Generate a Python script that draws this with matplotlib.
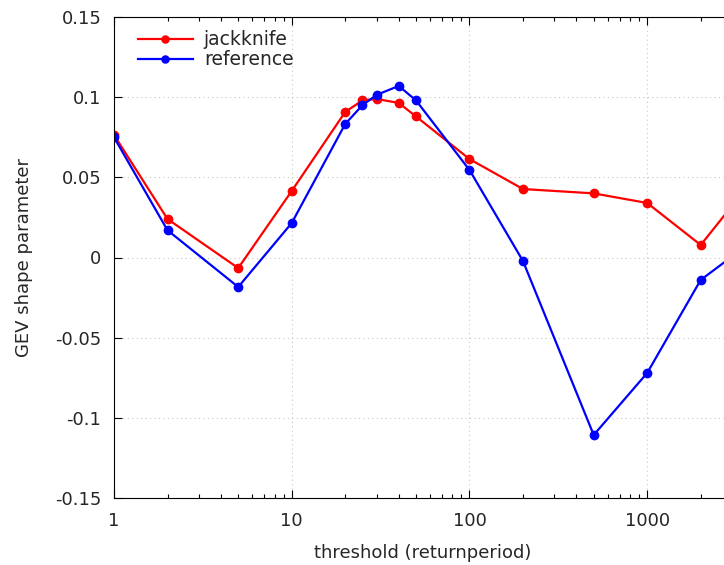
import numpy as np
import matplotlib
matplotlib.use("Agg")
from matplotlib import pyplot as plt
from matplotlib.ticker import LogLocator, FixedLocator, NullFormatter

# values
thresholds = [1, 2, 5, 10, 20, 25, 30, 40, 50, 100, 200, 500, 1000, 2000, 5000]
jackknife = [0.0764, 0.024, -0.0066, 0.0415, 0.0908, 0.098, 0.0989, 0.0964, 0.088,
             0.0614, 0.0427, 0.040, 0.034, 0.0078, 0.063]
reference = [0.075, 0.017, -0.0184, 0.0215, 0.0833, 0.095, 0.1014, 0.107, 0.098,
             0.0546, -0.0022, -0.1107, -0.072, -0.014, 0.019]
y_ticks = [-0.15, -0.1, -0.05, 0, 0.05, 0.1, 0.15]
y_labels = ["-0.15", "-0.1", "-0.05", "0", "0.05", "0.1", "0.15"]

fs = 13
txt = "#262626"

plt.rcParams["font.family"] = "DejaVu Sans"
plt.rcParams["text.color"] = txt
plt.rcParams["xtick.labelcolor"] = txt
plt.rcParams["ytick.labelcolor"] = txt
plt.rcParams["axes.labelcolor"] = txt

fig = plt.figure(figsize=(7.24, 5.65), dpi=100)
# axes run a bit past the right edge of the picture (cropped like the reference)
ax = fig.add_axes([114 / 724, 1 - 498 / 565, 618 / 724, 481 / 565])

ax.plot(thresholds, jackknife, "-o", color="#ff0000", lw=1.6, ms=6, label="jackknife")
ax.plot(thresholds, reference, "-o", color="#0000ff", lw=1.6, ms=6, label="reference")

ax.set_xscale("log")
ax.set_xlim(1, 3000)
ax.set_ylim(-0.15, 0.15)
ax.set_yticks(y_ticks)
ax.set_yticklabels(y_labels)
ax.xaxis.set_major_locator(FixedLocator([1, 10, 100, 1000]))
ax.set_xticklabels(["1", "10", "100", "1000"])
ax.xaxis.set_minor_locator(LogLocator(base=10, subs=np.arange(2, 10)))
ax.xaxis.set_minor_formatter(NullFormatter())

ax.tick_params(which="both", direction="in", top=True, right=True, labelsize=fs)
ax.tick_params(axis="y", pad=9)
ax.tick_params(axis="x", pad=10)
ax.tick_params(which="major", length=6, width=0.8)
ax.tick_params(which="minor", length=3, width=0.8)
ax.grid(True, which="major", color="#c8c8c8", linestyle=(0, (1, 3)), lw=0.8)

ax.set_xlabel("threshold (returnperiod)", fontsize=fs, labelpad=10)
ax.set_ylabel("GEV shape parameter", fontsize=fs, labelpad=16)

leg = ax.legend(loc="upper left", frameon=False, fontsize=fs + 0.5, handlelength=2.9,
                handletextpad=0.6, borderaxespad=0.3, labelspacing=0.05,
                markerscale=0.85, bbox_to_anchor=(0.018, 1.0))

fig.savefig("out.png", dpi=100)
